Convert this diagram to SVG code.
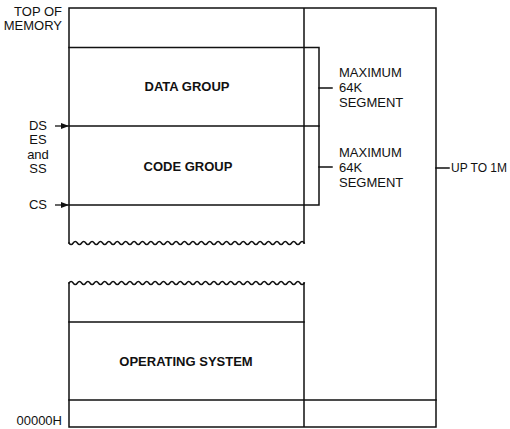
<svg xmlns="http://www.w3.org/2000/svg" width="510" height="429" viewBox="0 0 510 429">
<defs>
<style>
.ln{stroke:#111;stroke-width:1.5;fill:none;stroke-linecap:square}
.t{font-family:"Liberation Sans",Arial,sans-serif;font-size:13px;fill:#111}
.b{font-family:"Liberation Sans",Arial,sans-serif;font-size:13px;font-weight:bold;fill:#111}
</style>
<marker id="ah" markerWidth="8" markerHeight="6" refX="7" refY="3" orient="auto" markerUnits="userSpaceOnUse">
<path d="M0,0 L8,3 L0,6 Z" fill="#111"/>
</marker>
</defs>
<rect width="510" height="429" fill="#fff"/>
<g id="memory-frame">
<path class="ln" d="M69,8 H436 V427 M69,8 V243 M304,8 V243 M69,283 V427 H436 M304,283 V427"/>
<path class="ln" d="M69,243 q2.1,3.2 4.2,0 t4.2,0 t4.2,0 t4.2,0 t4.2,0 t4.2,0 t4.2,0 t4.2,0 t4.2,0 t4.2,0 t4.2,0 t4.2,0 t4.2,0 t4.2,0 t4.2,0 t4.2,0 t4.2,0 t4.2,0 t4.2,0 t4.2,0 t4.2,0 t4.2,0 t4.2,0 t4.2,0 t4.2,0 t4.2,0 t4.2,0 t4.2,0 t4.2,0 t4.2,0 t4.2,0 t4.2,0 t4.2,0 t4.2,0 t4.2,0 t4.2,0 t4.2,0 t4.2,0 t4.2,0 t4.2,0 t4.2,0 t4.2,0 t4.2,0 t4.2,0 t4.2,0 t4.2,0 t4.2,0 t4.2,0 t4.2,0 t4.2,0 t4.2,0 t4.2,0 t4.2,0 t4.2,0 t4.2,0 t4.2,0"/>
<path class="ln" d="M69,283 q2.1,-3.2 4.2,0 t4.2,0 t4.2,0 t4.2,0 t4.2,0 t4.2,0 t4.2,0 t4.2,0 t4.2,0 t4.2,0 t4.2,0 t4.2,0 t4.2,0 t4.2,0 t4.2,0 t4.2,0 t4.2,0 t4.2,0 t4.2,0 t4.2,0 t4.2,0 t4.2,0 t4.2,0 t4.2,0 t4.2,0 t4.2,0 t4.2,0 t4.2,0 t4.2,0 t4.2,0 t4.2,0 t4.2,0 t4.2,0 t4.2,0 t4.2,0 t4.2,0 t4.2,0 t4.2,0 t4.2,0 t4.2,0 t4.2,0 t4.2,0 t4.2,0 t4.2,0 t4.2,0 t4.2,0 t4.2,0 t4.2,0 t4.2,0 t4.2,0 t4.2,0 t4.2,0 t4.2,0 t4.2,0 t4.2,0 t4.2,0"/>
</g>
<g id="data-group">
<path class="ln" d="M69,47.5 H319 V126"/>
<text class="b" x="187" y="91" text-anchor="middle">DATA GROUP</text>
</g>
<g id="code-group">
<path class="ln" d="M69,126 H319 V205 H69"/>
<text class="b" x="188" y="171" text-anchor="middle">CODE GROUP</text>
</g>
<g id="operating-system">
<path class="ln" d="M69,322 H304 M69,400 H436"/>
<text class="b" x="186" y="366" text-anchor="middle">OPERATING SYSTEM</text>
</g>
<g id="connectors">
<path class="ln" d="M319,88 H332 M319,167 H332 M436,168 H449"/>
<line x1="55" y1="126" x2="68" y2="126" stroke="#111" stroke-width="1.3" marker-end="url(#ah)"/>
<line x1="55" y1="205" x2="68" y2="205" stroke="#111" stroke-width="1.3" marker-end="url(#ah)"/>
</g>
<g id="labels">
<text class="t" x="62" y="16" text-anchor="end">TOP OF</text>
<text class="t" x="62" y="30" text-anchor="end">MEMORY</text>
<text class="t" x="38" y="130" text-anchor="middle">DS</text>
<text class="t" x="38" y="144" text-anchor="middle">ES</text>
<text class="t" x="38" y="159" text-anchor="middle">and</text>
<text class="t" x="38" y="173" text-anchor="middle">SS</text>
<text class="t" x="38" y="209" text-anchor="middle">CS</text>
<text class="t" x="62" y="425" text-anchor="end">00000H</text>
<text class="t" x="339" y="77">MAXIMUM</text>
<text class="t" x="339" y="92">64K</text>
<text class="t" x="339" y="107">SEGMENT</text>
<text class="t" x="339" y="157">MAXIMUM</text>
<text class="t" x="339" y="172">64K</text>
<text class="t" x="339" y="187">SEGMENT</text>
<text class="t" x="451" y="172" style="font-size:12px">UP TO 1M</text>
</g>
</svg>
